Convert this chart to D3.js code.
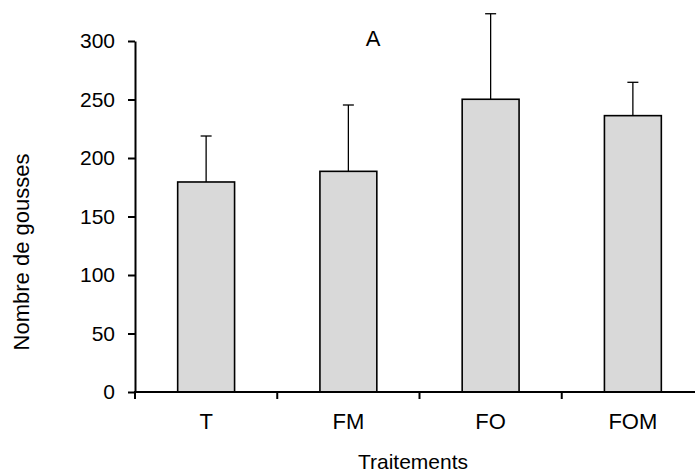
<!DOCTYPE html>
<html>
<head>
<meta charset="utf-8">
<script src="https://cdn.jsdelivr.net/npm/d3@7"></script>
<style>
  body { margin: 0; background: #fff; }
  text { font-family: "Liberation Sans", Arial, sans-serif; }
</style>
</head>
<body>
<div id="chart"></div>
<script>
// data
var categories = ["T", "FM", "FO", "FOM"];
var means = [179.5, 188.6, 250.2, 236.2];
var errors = [39.3, 56.7, 73.1, 28.5];
var yTicks = [0, 50, 100, 150, 200, 250, 300];

var width = 695, height = 475;
var plotLeft = 135, plotRight = 704, plotTop = 41, plotBottom = 392;

var svg = d3.select("#chart")
  .append("svg")
  .attr("width", width)
  .attr("height", height);

var x = d3.scaleBand()
  .domain(categories)
  .range([plotLeft, plotRight])
  .paddingInner(0.6)
  .paddingOuter(0.3);

var y = d3.scaleLinear()
  .domain([0, 300])
  .range([plotBottom, plotTop]);

var step = x.step();

// bars
svg.selectAll("rect.bar")
  .data(categories)
  .enter()
  .append("rect")
  .attr("class", "bar")
  .attr("x", d => x(d))
  .attr("y", (d, i) => y(means[i]))
  .attr("width", x.bandwidth())
  .attr("height", (d, i) => y(0) - y(means[i]))
  .attr("fill", "#d9d9d9")
  .attr("stroke", "#000")
  .attr("stroke-width", 1.6);

// error bars (upper only)
var capW = 11;
svg.selectAll("line.err")
  .data(categories)
  .enter()
  .append("line")
  .attr("x1", d => x(d) + x.bandwidth() / 2)
  .attr("x2", d => x(d) + x.bandwidth() / 2)
  .attr("y1", (d, i) => y(means[i]))
  .attr("y2", (d, i) => y(means[i] + errors[i]))
  .attr("stroke", "#000")
  .attr("stroke-width", 1.3);
svg.selectAll("line.cap")
  .data(categories)
  .enter()
  .append("line")
  .attr("x1", d => x(d) + x.bandwidth() / 2 - capW / 2)
  .attr("x2", d => x(d) + x.bandwidth() / 2 + capW / 2)
  .attr("y1", (d, i) => y(means[i] + errors[i]))
  .attr("y2", (d, i) => y(means[i] + errors[i]))
  .attr("stroke", "#000")
  .attr("stroke-width", 1.3);

// Y axis
var yAxis = svg.append("g")
  .attr("transform", "translate(" + plotLeft + ",0)")
  .call(d3.axisLeft(y).tickValues(yTicks).tickSize(7).tickSizeOuter(0).tickPadding(13));
yAxis.select(".domain").attr("stroke-width", 2);
yAxis.selectAll(".tick line").attr("stroke-width", 2);
yAxis.selectAll("text").style("font-size", "21px").attr("fill", "#000");

// X axis line
svg.append("line")
  .attr("x1", plotLeft - 1)
  .attr("x2", width)
  .attr("y1", y(0))
  .attr("y2", y(0))
  .attr("stroke", "#000")
  .attr("stroke-width", 2);

// X ticks at category boundaries
svg.selectAll("line.xtick")
  .data(categories)
  .enter()
  .append("line")
  .attr("x1", d => x(d) - step * 0.3)
  .attr("x2", d => x(d) - step * 0.3)
  .attr("y1", y(0))
  .attr("y2", y(0) + 7)
  .attr("stroke", "#000")
  .attr("stroke-width", 2);

// X labels
svg.selectAll("text.xlab")
  .data(categories)
  .enter()
  .append("text")
  .attr("x", d => x(d) + x.bandwidth() / 2)
  .attr("y", y(0) + 37)
  .attr("text-anchor", "middle")
  .style("font-size", "22px")
  .text(d => d);

// axis titles
svg.append("text")
  .attr("x", 413)
  .attr("y", 469)
  .attr("text-anchor", "middle")
  .style("font-size", "21px")
  .text("Traitements");

svg.append("text")
  .attr("transform", "translate(29,252)rotate(-90)")
  .attr("text-anchor", "middle")
  .style("font-size", "22px")
  .text("Nombre de gousses");

// panel label
svg.append("text")
  .attr("x", 373)
  .attr("y", 46)
  .attr("text-anchor", "middle")
  .style("font-size", "22px")
  .text("A");
</script>
</body>
</html>
